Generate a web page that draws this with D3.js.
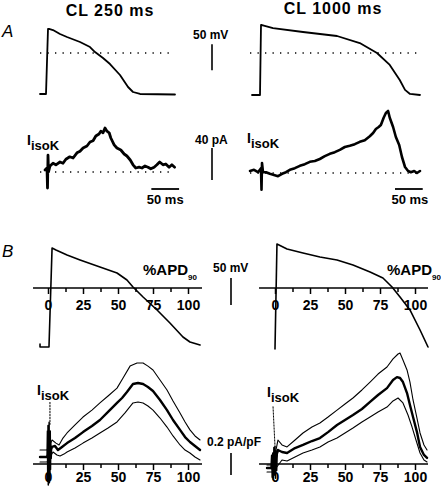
<!DOCTYPE html>
<html><head><meta charset="utf-8">
<script src="https://cdn.jsdelivr.net/npm/d3@7"></script>
<style>
body{margin:0;background:#fff}
svg{display:block}
text{font-family:"Liberation Sans",Arial,Helvetica,sans-serif;fill:#000}
</style>
</head><body>
<svg id="c" width="441" height="487"></svg>
<script>
// ---------- DATA ----------
// Panel A: time (ms) vs membrane potential (mV)
const apA250 = [[-12.6,-78.8],[-1.8,-78.8],[1.8,46.2],[3.6,46.2],[10.8,44.2],[23.4,36.5],[36,30.8],[59.5,21.2],[77.5,11.5],[86.5,1.9],[100.9,-9.6],[113.5,-21.2],[131.5,-42.3],[146,-65.4],[155,-75],[167.6,-78.8],[230.6,-79.8]];
const apA1000 = [[-16.2,-80.8],[-1.8,-80.8],[0,53.8],[1.8,53.8],[21.6,48],[75.7,40.4],[137,32.7],[178,19.2],[209,0],[232,-23],[250,-52],[259.5,-71],[268.5,-78.8],[286.5,-80.8]];
// Panel A: time (ms) vs IisoK (pA)
const iA250 = [[-3.6,2.5],[0,5],[0.9,-20],[1.8,21],[2.7,0],[5.4,7.5],[10.8,11],[16,9],[23.4,12.5],[28.8,11],[34,16],[41,19],[47,17.5],[54,24],[59.5,26],[65,30],[72,32.5],[77.5,37.5],[83,39],[88,45],[93.7,47.5],[97,51],[101,49],[104.5,55],[108,51],[112,49],[115,42.5],[121,34],[126,30],[133,27.5],[139,22.5],[144,20],[150,15],[155,9],[160,5],[166,6],[171,5],[176.6,7.5],[182,6],[187,4],[193,6],[198,9],[203,12.5],[209,9],[214,10],[220,6],[225,9],[230,6]];
const iA1000 = [[-19.8,2.5],[-12.6,4],[-5.4,1],[0,6],[0.9,-21],[1.8,12.5],[3.6,1],[9,1],[16,-1],[23.4,-2.5],[30.6,-4],[38,-1],[45,1],[52,4],[61,6],[70,9],[79,11],[88,14],[97,15],[106,17.5],[115,21],[124,24],[133,26],[142,29],[151,32.5],[160,34],[169,36],[178,39],[187,41],[196,46],[202,50],[207,55],[212,57.5],[216,60],[221,69],[225,75],[229,77.5],[232,69],[238,57.5],[243,45],[249,35],[254,20],[259.5,7.5],[265,2.5],[270,1],[276,2.5],[281,0],[286.5,2.5]];

// Panel B: %APD90 vs membrane potential (mV)
const apB250 = [[-5.7,-104],[-5.7,-109.3],[0.7,-109.3],[2.9,74],[5.7,70.4],[13.6,61],[22.9,51.9],[37.1,38.9],[49.3,27.8],[56.4,14.8],[60.7,1.9],[67.9,-16.7],[77.9,-40.7],[87.1,-64.8],[96.4,-90.7],[101.4,-100],[108.6,-105.6]];
const apB1000 = [[0,-113],[1.4,81.5],[8.6,72.2],[20,64.8],[32.1,57.4],[44.3,51.9],[55.7,42.6],[67.9,29.6],[77.1,18.5],[83.6,1.9],[89.3,-16.7],[96.4,-40.7],[103.6,-77.8],[109.3,-109.3]];

// Panel B: %APD90 vs IisoK (pA/pF): mean, mean+SEM, mean-SEM
const iB250mean = [[-5.7,0.064],[-0.7,0.064],[2.9,0.155],[5,0.164],[7.1,0.127],[10,0.155],[13.6,0.19],[19.3,0.236],[25,0.29],[31.4,0.345],[37.1,0.4],[42.9,0.473],[49.3,0.555],[52.9,0.6],[56.4,0.655],[60.7,0.727],[64.3,0.736],[67.9,0.727],[71.4,0.7],[75,0.664],[80,0.582],[85,0.49],[89.3,0.4],[94.3,0.31],[97.9,0.245],[101.4,0.2],[105,0.164],[108.6,0.127]];
const iB250hi = [[-5.7,0.127],[-0.7,0.127],[2.9,0.218],[5.7,0.19],[7.9,0.173],[10.7,0.236],[13.6,0.282],[19.3,0.355],[25,0.427],[31.4,0.49],[37.1,0.555],[42.9,0.618],[49.3,0.69],[53.6,0.782],[58.6,0.89],[63.6,0.918],[67.9,0.918],[71.4,0.89],[75,0.855],[80,0.764],[85,0.673],[89.3,0.573],[94.3,0.464],[97.9,0.382],[101.4,0.31],[105,0.255],[108.6,0.218]];
const iB250lo = [[-5.7,0.018],[-0.7,0.018],[3.6,0.109],[6.4,0.082],[8.6,0.073],[11.4,0.09],[13.6,0.109],[19.3,0.145],[25,0.19],[31.4,0.236],[37.1,0.282],[42.9,0.327],[49.3,0.382],[55,0.464],[60.7,0.555],[64.3,0.564],[67.9,0.555],[71.4,0.527],[75,0.49],[80,0.418],[85,0.336],[89.3,0.255],[94.3,0.173],[97.9,0.127],[101.4,0.1],[105,0.064],[108.6,0.036]];
const iB250burst = [[-0.7,0.06],[-0.4,0.3],[-0.2,-0.16],[0,0.35],[0.2,-0.19],[0.4,0.25],[0.6,-0.12],[0.8,0.38],[1.0,-0.17],[1.2,0.22],[1.4,-0.1],[1.6,0.3],[1.8,-0.05],[2.0,0.2],[2.3,0.05],[2.6,0.16]];
const iB250spike = [[1.4,0.56],[1.4,0.36]];

const iB1000mean = [[-5.7,-0.036],[-1.4,-0.036],[2.1,0.127],[5,0.109],[8.6,0.1],[14.3,0.145],[20,0.173],[26.4,0.209],[32.1,0.236],[37.9,0.29],[44.3,0.355],[50,0.4],[55.7,0.445],[62.1,0.5],[67.9,0.564],[73.6,0.627],[80,0.69],[84.3,0.764],[87.1,0.79],[89.3,0.782],[91.4,0.745],[94.3,0.645],[96.4,0.536],[98.6,0.427],[101.4,0.29],[103.6,0.155],[106.4,0.082],[108.6,0.055]];
const iB1000hi = [[-5.7,-0.009],[-1.4,-0.009],[2.1,0.218],[5,0.173],[8.6,0.155],[14.3,0.218],[20,0.282],[26.4,0.336],[32.1,0.373],[37.9,0.427],[44.3,0.49],[50,0.545],[55.7,0.6],[62.1,0.673],[67.9,0.745],[73.6,0.818],[80,0.882],[84.3,0.955],[87.9,1.0],[89.3,1.009],[91.4,0.945],[94.3,0.855],[96.4,0.745],[98.6,0.582],[101.4,0.418],[103.6,0.282],[106.4,0.173],[108.6,0.127]];
const iB1000lo = [[-5.7,-0.073],[-1.4,-0.073],[5,0.036],[8.6,0.027],[14.3,0.064],[20,0.1],[26.4,0.127],[32.1,0.155],[37.9,0.2],[44.3,0.236],[50,0.282],[55.7,0.327],[62.1,0.382],[67.9,0.427],[73.6,0.473],[80,0.518],[84.3,0.573],[87.9,0.6],[91.4,0.555],[95,0.445],[97.9,0.336],[100.7,0.218],[103.6,0.1],[106.4,0.036],[108.6,0.018]];
const iB1000burst = [[-2.9,-0.04],[-2.4,0.08],[-2.0,-0.12],[-1.6,0.1],[-1.2,-0.14],[-0.8,0.15],[-0.4,-0.1],[0,0.16],[0.4,-0.13],[0.8,0.12],[1.2,-0.06],[1.6,0.1],[2.1,0.12]];
const iB1000spike = [[-1.4,0.52],[0,0.16]];

const majorTicks = [0,25,50,75,100];
const minorTicks = [12.5,37.5,62.5,87.5];
const titles = ["CL 250 ms","CL 1000 ms"];

// ---------- SCALES ----------
const svg = d3.select("#c");
const FONT = '"Liberation Sans",Arial,Helvetica,sans-serif';

// Panel A
const xA1 = d3.scaleLinear().domain([0,100]).range([47,102.5]);
const xA2 = d3.scaleLinear().domain([0,100]).range([261,316.5]);
const yVA = d3.scaleLinear().domain([0,50]).range([53,27]);
const yIA1 = d3.scaleLinear().domain([0,40]).range([172,140]);
const yIA2 = d3.scaleLinear().domain([0,40]).range([173,141]);
// Panel B
const xB1 = d3.scaleLinear().domain([0,100]).range([48,188]);
const xB2 = d3.scaleLinear().domain([0,100]).range([275,415]);
const yVB = d3.scaleLinear().domain([0,50]).range([288,261]);
const yIB = d3.scaleLinear().domain([0,0.2]).range([464,442]);

function trace(data, x, y, w, dash){
  const p = svg.append("path").datum(data)
    .attr("d", d3.line().x(d=>x(d[0])).y(d=>y(d[1])))
    .attr("fill","none").attr("stroke","#000").attr("stroke-width",w)
    .attr("stroke-linejoin","round").attr("stroke-linecap","round");
  if(dash) p.attr("stroke-dasharray",dash);
  return p;
}
function hline(x, y, t0, t1, v){ // dotted zero line
  svg.append("line").attr("x1",x(t0)).attr("x2",x(t1)).attr("y1",y(v)).attr("y2",y(v))
    .attr("stroke","#000").attr("stroke-width",1.3).attr("stroke-dasharray","1.3,6.2");
}
function bar(x1,y1,x2,y2,w){
  svg.append("line").attr("x1",x1).attr("x2",x2).attr("y1",y1).attr("y2",y2)
    .attr("stroke","#000").attr("stroke-width",w||1.6);
}
function label(x,y,txt,size,opts){
  opts=opts||{};
  const t = svg.append("text").attr("x",x).attr("y",y).text(txt)
    .style("font-size",size+"px").style("font-weight",opts.normal?"normal":"bold");
  if(opts.anchor) t.attr("text-anchor",opts.anchor);
  if(opts.italic) t.style("font-style","italic");
  if(opts.ls) t.style("letter-spacing",opts.ls+"px");
  return t;
}
function isoK(x,y){
  const t = svg.append("text").attr("x",x).attr("y",y).style("font-size","13px").style("font-weight","bold");
  t.append("tspan").text("I").style("font-size","14px");
  t.append("tspan").text("isoK").attr("dy",5);
}
function apdLabel(x,y){
  const t = svg.append("text").attr("x",x).attr("y",y).style("font-size","15px").style("font-weight","bold");
  t.append("tspan").text("%APD");
  t.append("tspan").text("90").attr("dy",5).style("font-size","8px");
}
function axis(x, y, lo, hi, labY){
  const g = svg.append("g").attr("transform",`translate(0,${y})`);
  g.append("line").attr("x1",x(lo)).attr("x2",x(hi)).attr("stroke","#000").attr("stroke-width",1.5);
  const ax = d3.axisBottom(x).tickValues(majorTicks).tickSize(6).tickSizeOuter(0).tickFormat(d3.format("d"));
  const gm = g.append("g").call(ax);
  gm.select(".domain").remove();
  gm.selectAll("line").attr("stroke-width",1.5);
  gm.selectAll("text").attr("y",labY).style("font-size","14px").style("font-weight","bold").style("font-family",FONT);
  const gn = g.append("g").call(d3.axisBottom(x).tickValues(minorTicks).tickSize(4).tickFormat(""));
  gn.select(".domain").remove();
  gn.selectAll("line").attr("stroke-width",1.5);
}

// ---------- PANEL A ----------
label(110,16,titles[0],16,{anchor:"middle",ls:1});
label(333,14,titles[1],16,{anchor:"middle",ls:1});
label(2,37,"A",17,{italic:true,normal:true});

hline(xA1,yVA,-12.6,230.6,0);
hline(xA2,yVA,-19.8,286.5,0);
trace(apA250,xA1,yVA,1.8);
trace(apA1000,xA2,yVA,1.8);

label(193,39,"50 mV",12);
bar(212,yVA(17),212,yVA(-33));

hline(xA1,yIA1,-12.6,230.6,0);
hline(xA2,yIA2,-19.8,286.5,0);
trace(iA250,xA1,yIA1,2.8);
trace(iA1000,xA2,yIA2,2.6);
isoK(27,145);
isoK(247,143);

label(195,144,"40 pA",12);
bar(212,yIA1(30),212,yIA1(-10));

bar(xA1(188),189,xA1(238),189,1.8);
label(xA1(213),204,"50 ms",13,{anchor:"middle"});
bar(xA2(241.4),189,xA2(291.4),189,1.8);
label(xA2(266.4)+1,204,"50 ms",13,{anchor:"middle"});

// ---------- PANEL B ----------
label(2,257,"B",17,{italic:true,normal:true});
axis(xB1, yVB(0), -10.7, 110, 12);
axis(xB2, yVB(0), -11.4, 109.3, 12);
trace(apB250,xB1,yVB,1.6);
trace(apB1000,xB2,yVB,1.6);
apdLabel(143,275);
apdLabel(387,275);
label(213,272,"50 mV",12);
bar(231,yVB(18.5),231,yVB(-31.5));

axis(xB1, yIB(0), -10.7, 110, 8.5);
axis(xB2, yIB(0), -11.4, 109.3, 8.5);
trace(iB250hi,xB1,yIB,1.1);
trace(iB250lo,xB1,yIB,1.1);
trace(iB250mean,xB1,yIB,2.4);
trace(iB250burst,xB1,yIB,1.5);
trace(iB250spike,xB1,yIB,1,"1.5,1.5");
trace(iB1000hi,xB2,yIB,1.1);
trace(iB1000lo,xB2,yIB,1.1);
trace(iB1000mean,xB2,yIB,2.4);
trace(iB1000burst,xB2,yIB,1.5);
trace(iB1000spike,xB2,yIB,1,"1.5,1.5");
isoK(37,395);
isoK(267,397);
label(207,446,"0.2 pA/pF",12);
bar(231,yIB(0.1),231,yIB(-0.1));
</script>
</body></html>
